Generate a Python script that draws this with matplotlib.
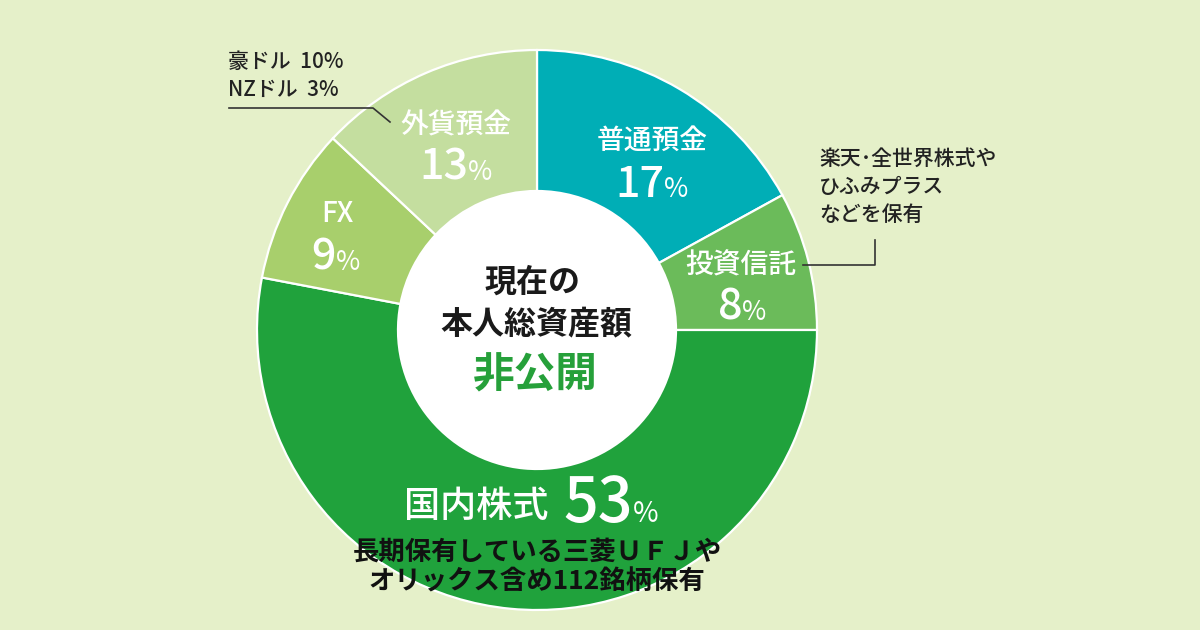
import matplotlib.pyplot as plt
from matplotlib.patches import Circle

plt.rcParams['font.family'] = ['Noto Sans CJK JP', 'DejaVu Sans']

# data
labels = ['普通預金', '投資信託', '国内株式', 'FX', '外貨預金']
shares = [17, 8, 53, 9, 13]
colors = ['#00aeb6', '#6bbb5a', '#20a23c', '#a8cf6c', '#c4de9f']
center_title = ['現在の', '本人総資産額']
center_value = '非公開'
fx_note = ['豪ドル  10%', 'NZドル  3%']
fund_note = ['楽天･全世界株式や', 'ひふみプラス', 'などを保有']
stock_note = ['長期保有している三菱ＵＦＪや', 'オリックス含め112銘柄保有']

W, H = 1200, 630
BG = '#e5f0c9'
CX, CY, R, R_IN = 537, 330, 280, 139


def py(y):
    return H - y


fig = plt.figure(figsize=(12, 6.3), dpi=100, facecolor=BG)
ax = fig.add_axes([0, 0, 1, 1])
ax.set_facecolor(BG)

ax.pie(shares, colors=colors, startangle=90, counterclock=False,
       radius=R, center=(CX, py(CY)),
       wedgeprops=dict(width=R - R_IN, edgecolor='white', linewidth=1.6))
ax.add_patch(Circle((CX, py(CY)), R_IN, facecolor='white', edgecolor='none', zorder=3))
ax.set_xlim(0, W)
ax.set_ylim(0, H)
ax.axis('off')

white = dict(color='white', ha='center', va='center', zorder=5)

# slice names
ax.text(652, py(140), labels[0], fontsize=20, weight='medium', **white)
ax.text(741, py(265), labels[1], fontsize=20, weight='medium', **white)
ax.text(337, py(214), labels[3], fontsize=20, weight='medium', **white)
ax.text(456, py(125), labels[4], fontsize=20, weight='medium', **white)
ax.text(476, py(507), labels[2], fontsize=26, weight='medium', **white)

# percentages: big number + small %
pct_items = []


def pct(x, y, value, nsize, psize=19):
    a = ax.text(x, py(y), str(value), fontsize=nsize, color='white', weight='medium',
                ha='left', va='baseline', zorder=5)
    b = ax.text(x, py(y), '%', fontsize=psize, color='white',
                ha='left', va='baseline', zorder=5)
    pct_items.append((x, y, a, b))


pct(652, 197, shares[0], 31)
pct(742, 320, shares[1], 31)
pct(336, 270, shares[3], 31)
pct(456, 180, shares[4], 31)

big_a = ax.text(563, py(522), str(shares[2]), fontsize=44, color='white', weight='medium',
                ha='left', va='baseline', zorder=5)
big_b = ax.text(640, py(522), '%', fontsize=20, color='white',
                ha='left', va='baseline', zorder=5)

fig.canvas.draw()
renderer = fig.canvas.get_renderer()
for x, y, a, b in pct_items:
    wa = a.get_window_extent(renderer).width
    wb = b.get_window_extent(renderer).width
    left = x - (wa + wb) / 2
    a.set_position((left, py(y)))
    b.set_position((left + wa, py(y)))
wa = big_a.get_window_extent(renderer).width
big_b.set_position((563 + wa, py(522)))

# center text
ax.text(533, py(283), center_title[0], fontsize=23, weight='bold', color='#1a1a1a',
        ha='center', va='center', zorder=5)
ax.text(536, py(324), center_title[1], fontsize=23, weight='bold', color='#1a1a1a',
        ha='center', va='center', zorder=5)
ax.text(535, py(376), center_value, fontsize=30, weight='bold', color='#26a03a',
        ha='center', va='center', zorder=5)

# notes
dark = '#222222'
for i, line in enumerate(fx_note):
    ax.text(228, py(62 + 28 * i), line, fontsize=15, color=dark, weight='medium',
            ha='left', va='center', zorder=5)
ax.plot([229, 373, 390], [py(108), py(108), py(122)], color='#333333', lw=1.2, zorder=6)

for i, line in enumerate(fund_note):
    ax.text(819, py(159 + 28 * i), line, fontsize=15, color=dark, weight='medium',
            ha='left', va='center', zorder=5)
ax.plot([803, 875, 875], [py(265), py(265), py(240)], color='#333333', lw=1.2, zorder=6)

for i, line in enumerate(stock_note):
    ax.text(537, py(552 + 30 * i), line, fontsize=19, color='#111111', weight='bold',
            ha='center', va='center', zorder=5)

fig.savefig('out.png', dpi=100, facecolor=BG)
